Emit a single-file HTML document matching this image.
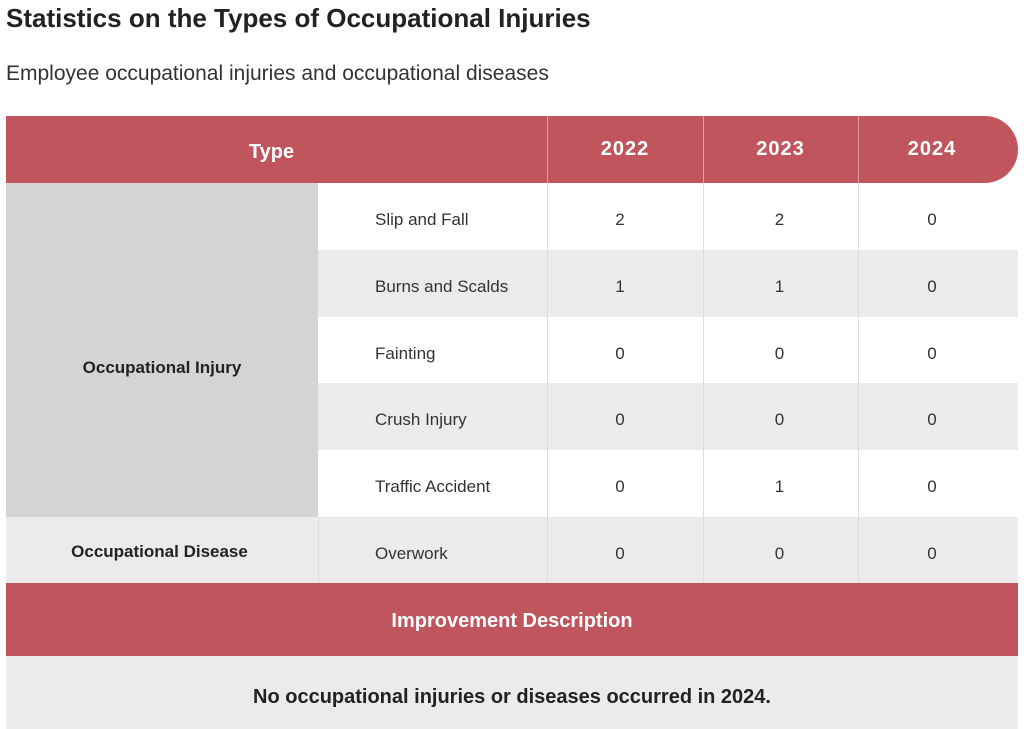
<!DOCTYPE html>
<html><head><style>
body{margin:0;width:1024px;height:729px;background:#fff;font-family:"Liberation Sans",sans-serif;position:relative;overflow:hidden;color:#222}
div{position:absolute;box-sizing:border-box}
.c{display:flex;align-items:center;justify-content:center}
.l{display:flex;align-items:center}
.red{background:#c0555d;color:#fff;font-weight:bold}
.vl{width:1px;background:#dcdcdc}
</style></head><body>
<div style="left:6px;top:3px;font-size:26px;font-weight:bold;color:#222">Statistics on the Types of Occupational Injuries</div>
<div style="left:6px;top:62px;font-size:21px;color:#333">Employee occupational injuries and occupational diseases</div>

<div class="red" style="left:6px;top:116px;width:1012px;height:67px;border-radius:0 34px 34px 0"></div>
<div class="c" style="left:6px;top:116px;width:541px;height:67px;color:#fff;font-weight:bold;font-size:20px;padding-right:10px;padding-top:6px">Type</div>
<div class="c" style="left:547px;top:116px;width:156px;height:67px;color:#fff;font-weight:bold;font-size:20px;letter-spacing:1px">2022</div>
<div class="c" style="left:703px;top:116px;width:155px;height:67px;color:#fff;font-weight:bold;font-size:20px;letter-spacing:1px">2023</div>
<div class="c" style="left:858px;top:116px;width:148px;height:67px;color:#fff;font-weight:bold;font-size:20px;letter-spacing:1px">2024</div>

<div style="left:318px;top:250px;width:700px;height:67px;background:#ecebeb"></div>
<div style="left:318px;top:383px;width:700px;height:67px;background:#ecebeb"></div>
<div style="left:6px;top:517px;width:1012px;height:66px;background:#ecebeb"></div>
<div style="left:6px;top:183px;width:312px;height:334px;background:#d4d4d2"></div>
<div class="c" style="left:6px;top:334px;width:312px;height:67px;font-weight:bold;font-size:17px">Occupational Injury</div>
<div class="c" style="left:6px;top:517px;width:312px;height:66px;font-weight:bold;font-size:17px;padding-right:5px;padding-top:3px">Occupational Disease</div>

<div class="vl" style="left:318px;top:517px;height:66px"></div>
<div class="vl" style="left:547px;top:116px;height:67px;background:#d9a0a4"></div>
<div class="vl" style="left:547px;top:183px;height:400px"></div>
<div class="vl" style="left:703px;top:116px;height:67px;background:#d9a0a4"></div>
<div class="vl" style="left:703px;top:183px;height:400px"></div>
<div class="vl" style="left:858px;top:116px;height:67px;background:#d9a0a4"></div>
<div class="vl" style="left:858px;top:183px;height:400px"></div>

<div style="left:0;top:186px;width:1024px;font-size:17px;color:#333">
<div class="l" style="left:375px;top:0;height:67px">Slip and Fall</div>
<div class="l" style="left:375px;top:67px;height:67px">Burns and Scalds</div>
<div class="l" style="left:375px;top:134px;height:67px">Fainting</div>
<div class="l" style="left:375px;top:200px;height:67px">Crush Injury</div>
<div class="l" style="left:375px;top:267px;height:67px">Traffic Accident</div>
<div class="l" style="left:375px;top:334px;height:67px">Overwork</div>
</div>
<div style="left:542px;top:186px;width:156px;font-size:17px;color:#333">
<div class="c" style="left:0;width:156px;top:0;height:67px">2</div>
<div class="c" style="left:0;width:156px;top:67px;height:67px">1</div>
<div class="c" style="left:0;width:156px;top:134px;height:67px">0</div>
<div class="c" style="left:0;width:156px;top:200px;height:67px">0</div>
<div class="c" style="left:0;width:156px;top:267px;height:67px">0</div>
<div class="c" style="left:0;width:156px;top:334px;height:67px">0</div>
</div>
<div style="left:702px;top:186px;width:155px;font-size:17px;color:#333">
<div class="c" style="left:0;width:155px;top:0;height:67px">2</div>
<div class="c" style="left:0;width:155px;top:67px;height:67px">1</div>
<div class="c" style="left:0;width:155px;top:134px;height:67px">0</div>
<div class="c" style="left:0;width:155px;top:200px;height:67px">0</div>
<div class="c" style="left:0;width:155px;top:267px;height:67px">1</div>
<div class="c" style="left:0;width:155px;top:334px;height:67px">0</div>
</div>
<div style="left:858px;top:186px;width:148px;font-size:17px;color:#333">
<div class="c" style="left:0;width:148px;top:0;height:67px">0</div>
<div class="c" style="left:0;width:148px;top:67px;height:67px">0</div>
<div class="c" style="left:0;width:148px;top:134px;height:67px">0</div>
<div class="c" style="left:0;width:148px;top:200px;height:67px">0</div>
<div class="c" style="left:0;width:148px;top:267px;height:67px">0</div>
<div class="c" style="left:0;width:148px;top:334px;height:67px">0</div>
</div>

<div class="red c" style="left:6px;top:583px;width:1012px;height:73px;font-size:20px;padding-top:4px">Improvement Description</div>
<div class="c" style="left:6px;top:656px;width:1012px;height:73px;background:#ecebeb;font-weight:bold;font-size:20px;color:#222;padding-top:10px">No occupational injuries or diseases occurred in 2024.</div>
</body></html>
